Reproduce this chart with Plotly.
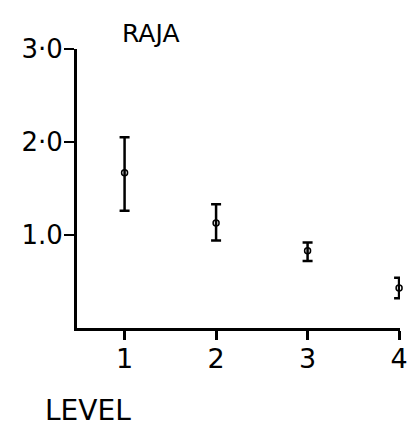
import plotly.graph_objects as go

# Mean and error-bar extents per level
levels = [1, 2, 3, 4]
means = [1.67, 1.13, 0.83, 0.43]
upper = [2.05, 1.33, 0.92, 0.54]
lower = [1.26, 0.94, 0.72, 0.32]

y_tick_vals = [1.0, 2.0, 3.0]
y_tick_text = ["1.0", "2·0", "3·0"]
x_tick_vals = [1, 2, 3, 4]
x_tick_text = ["1", "2", "3", "4"]

err_plus = [u - m for u, m in zip(upper, means)]
err_minus = [m - l for m, l in zip(means, lower)]

FONT = "DejaVu Sans"

fig = go.Figure()
fig.add_trace(go.Scatter(
    x=levels,
    y=means,
    mode="markers",
    marker=dict(symbol="circle-open", size=6, color="black", line=dict(width=1.5)),
    error_y=dict(type="data", symmetric=False, array=err_plus, arrayminus=err_minus,
                 color="black", thickness=2.5, width=5),
    showlegend=False,
    cliponaxis=False,
))

fig.update_layout(
    width=420, height=437,
    margin=dict(l=77, r=16, t=49, b=109),
    paper_bgcolor="white", plot_bgcolor="white",
    font=dict(family=FONT, color="black"),
    xaxis=dict(
        range=[0.48, 4.01], showline=True, linewidth=3, linecolor="black",
        showgrid=False, zeroline=False,
        tickmode="array", tickvals=x_tick_vals, ticktext=x_tick_text,
        ticks="outside", ticklen=9, tickwidth=2.5, tickcolor="black",
        tickfont=dict(size=27, family=FONT), ticklabelstandoff=-4,
    ),
    yaxis=dict(
        range=[0, 3.0], showline=True, linewidth=3, linecolor="black",
        showgrid=False, zeroline=False,
        tickmode="array", tickvals=y_tick_vals, ticktext=y_tick_text,
        ticks="outside", ticklen=10, tickwidth=2, tickcolor="black",
        tickfont=dict(size=26, family=FONT), ticklabelstandoff=-4,
    ),
    annotations=[
        dict(text="RAJA", x=0.229, y=1.054, xref="paper", yref="paper",
             xanchor="center", yanchor="middle",
             showarrow=False, font=dict(size=25, family=FONT)),
        dict(text="LEVEL", x=0.034, y=-0.294, xref="paper", yref="paper",
             xanchor="center", yanchor="middle",
             showarrow=False, font=dict(size=28, family=FONT)),
    ],
)

fig.write_html("out.html")
